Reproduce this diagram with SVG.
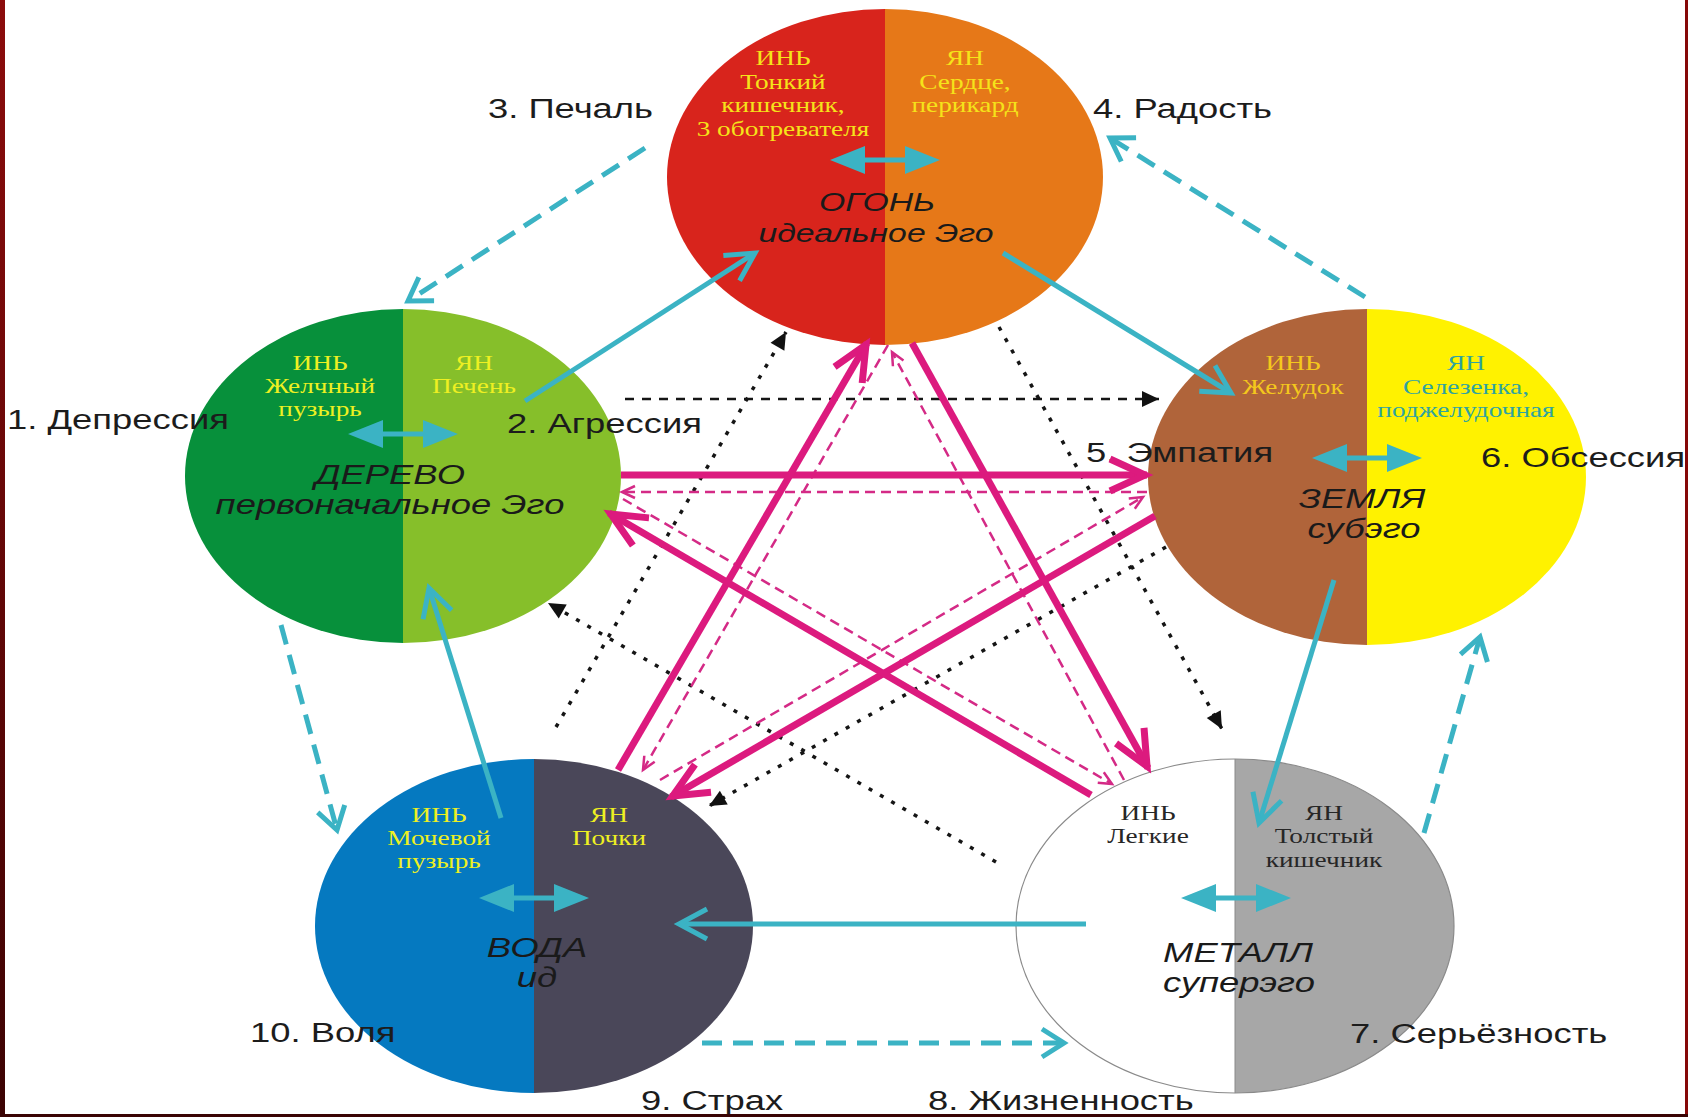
<svg xmlns="http://www.w3.org/2000/svg" width="1688" height="1117" viewBox="0 0 1688 1117">
<style>
.lab{font-family:"Liberation Sans",Arial,sans-serif;font-size:28px;fill:#1c1c1c}
.org{font-family:"Liberation Serif","Times New Roman",serif;font-size:21px;text-anchor:middle}
.el{font-family:"Liberation Sans",Arial,sans-serif;font-style:italic;font-size:28px;text-anchor:middle;fill:#1a1a1a}
.el26{font-size:26px}
.teal{fill:none;stroke:#3bb3c4;stroke-width:5}
.tdash{fill:none;stroke:#3bb3c4;stroke-width:5;stroke-dasharray:20 11}
.mag{fill:none;stroke:#dc1a7e;stroke-width:7}
.mdash{fill:none;stroke:#d42a86;stroke-width:2.5;stroke-dasharray:10 6}
.dot{fill:none;stroke:#151515;stroke-width:3.5;stroke-dasharray:4 9}
.dash{fill:none;stroke:#151515;stroke-width:2.5;stroke-dasharray:9 8}
.y1{fill:#f5e31a}
.y2{fill:#eef022}
</style>
<defs>
<linearGradient id="gb" x1="0" y1="0" x2="0" y2="1"><stop offset="0" stop-color="#8c0c0c"/><stop offset="1" stop-color="#3c0303"/></linearGradient>
<g id="dbl"><path d="M-55 0 L-20 -14 L-20 14 Z M55 0 L20 -14 L20 14 Z" fill="#3bb3c4"/><path d="M-22 0 H22" stroke="#3bb3c4" stroke-width="5"/></g>
<marker id="mTeal" markerUnits="userSpaceOnUse" orient="auto" viewBox="-40 -25 50 50" refX="0" refY="0" markerWidth="50" markerHeight="50"><path d="M-28 -15 L0 0 L-28 15" fill="none" stroke="#3bb3c4" stroke-width="5" stroke-dasharray="none"/></marker>
<marker id="mTealD" markerUnits="userSpaceOnUse" orient="auto" viewBox="-40 -25 50 50" refX="0" refY="0" markerWidth="50" markerHeight="50"><path d="M-22 -14 L0 0 L-22 14" fill="none" stroke="#3bb3c4" stroke-width="5" stroke-dasharray="none"/></marker>
<marker id="mMag" markerUnits="userSpaceOnUse" orient="auto" viewBox="-50 -30 60 60" refX="0" refY="0" markerWidth="60" markerHeight="60"><path d="M-37 -16 L-2 0 L-37 16" fill="none" stroke="#dc1a7e" stroke-width="7" stroke-dasharray="none"/></marker>
<marker id="mMagS" markerUnits="userSpaceOnUse" orient="auto" viewBox="-20 -12 26 24" refX="0" refY="0" markerWidth="26" markerHeight="24"><path d="M-13 -6 L0 0 L-13 6" fill="none" stroke="#d42a86" stroke-width="2.5" stroke-dasharray="none"/></marker>
<marker id="mBlk" markerUnits="userSpaceOnUse" orient="auto" viewBox="-20 -10 24 20" refX="0" refY="0" markerWidth="24" markerHeight="20"><path d="M-17 -8 L0 0 L-17 8 Z" fill="#111"/></marker>
</defs>
<rect width="1688" height="1117" fill="#fff"/>

<g id="fire">
<path d="M885 9 A218 168 0 0 0 885 345 Z" fill="#d8241c"/>
<path d="M885 9 A218 168 0 0 1 885 345 Z" fill="#e67818"/>
<text class="org y1" transform="matrix(1.3 0 0 1 783 65)"><tspan x="0" y="0">ИНЬ</tspan><tspan x="0" dy="23.7">Тонкий</tspan><tspan x="0" dy="23.7">кишечник,</tspan><tspan x="0" dy="23.7">3 обогревателя</tspan></text>
<text class="org y1" transform="matrix(1.3 0 0 1 965 65)"><tspan x="0" y="0">ЯН</tspan><tspan x="0" dy="23.7">Сердце,</tspan><tspan x="0" dy="23.7">перикард</tspan></text>
<use href="#dbl" transform="translate(885 160)"/>
<text class="el el26" transform="matrix(1.3 0 0 1 877 211)">ОГОНЬ</text>
<text class="el el26" transform="matrix(1.3 0 0 1 876 242)">идеальное Эго</text>
</g>

<g id="wood">
<path d="M403 309 A218 167 0 0 0 403 643 Z" fill="#07903b"/>
<path d="M403 309 A218 167 0 0 1 403 643 Z" fill="#86bf2a"/>
<text class="org y2" transform="matrix(1.3 0 0 1 320 370)"><tspan x="0" y="0">ИНЬ</tspan><tspan x="0" dy="23">Желчный</tspan><tspan x="0" dy="23">пузырь</tspan></text>
<text class="org y2" transform="matrix(1.3 0 0 1 474 370)"><tspan x="0" y="0">ЯН</tspan><tspan x="0" dy="23">Печень</tspan></text>
<use href="#dbl" transform="translate(403 434)"/>
<text class="el" transform="matrix(1.3 0 0 1 390 484)">ДЕРЕВО</text>
<text class="el" transform="matrix(1.3 0 0 1 390 514)">первоначальное Эго</text>
</g>

<g id="earth">
<path d="M1367 309 A219 168 0 0 0 1367 645 Z" fill="#b0643a"/>
<path d="M1367 309 A219 168 0 0 1 1367 645 Z" fill="#fff200"/>
<text class="org" fill="#f4c81c" transform="matrix(1.3 0 0 1 1293 370)"><tspan x="0" y="0">ИНЬ</tspan><tspan x="0" dy="24">Желудок</tspan></text>
<text class="org" fill="#2fa3a0" transform="matrix(1.3 0 0 1 1466 370)"><tspan x="0" y="0">ЯН</tspan><tspan x="0" dy="24">Селезенка,</tspan><tspan x="0" dy="23">поджелудочная</tspan></text>
<use href="#dbl" transform="translate(1367 458)"/>
<text class="el" transform="matrix(1.3 0 0 1 1362 508)">ЗЕМЛЯ</text>
<text class="el" transform="matrix(1.3 0 0 1 1364 538)">субэго</text>
</g>

<g id="water">
<path d="M534 759 A219 167 0 0 0 534 1093 Z" fill="#0579c0"/>
<path d="M534 759 A219 167 0 0 1 534 1093 Z" fill="#4a4759"/>
<text class="org y2" transform="matrix(1.3 0 0 1 439 822)"><tspan x="0" y="0">ИНЬ</tspan><tspan x="0" dy="23">Мочевой</tspan><tspan x="0" dy="23">пузырь</tspan></text>
<text class="org y2" transform="matrix(1.3 0 0 1 609 822)"><tspan x="0" y="0">ЯН</tspan><tspan x="0" dy="23">Почки</tspan></text>
<use href="#dbl" transform="translate(534 898)"/>
<text class="el" transform="matrix(1.3 0 0 1 537 957)">ВОДА</text>
<text class="el" transform="matrix(1.3 0 0 1 537 987)">ид</text>
</g>

<g id="metal">
<path d="M1235 759 A219 167 0 0 0 1235 1093 Z" fill="#ffffff"/>
<path d="M1235 759 A219 167 0 0 1 1235 1093 Z" fill="#a7a7a7"/>
<ellipse cx="1235" cy="926" rx="219" ry="167" fill="none" stroke="#8a8a8a" stroke-width="1.2"/>
<path d="M1235 759 V1093" stroke="#8a8a8a" stroke-width="1"/>
<text class="org" fill="#262626" transform="matrix(1.3 0 0 1 1148 820)"><tspan x="0" y="0">ИНЬ</tspan><tspan x="0" dy="23">Легкие</tspan></text>
<text class="org" fill="#262626" transform="matrix(1.3 0 0 1 1324 820)"><tspan x="0" y="0">ЯН</tspan><tspan x="0" dy="23">Толстый</tspan><tspan x="0" dy="24">кишечник</tspan></text>
<use href="#dbl" transform="translate(1236 898)"/>
<text class="el" transform="matrix(1.3 0 0 1 1238 962)">МЕТАЛЛ</text>
<text class="el" transform="matrix(1.3 0 0 1 1239 992)">суперэго</text>
</g>

<g id="labels">
<text class="lab" transform="matrix(1.3 0 0 1 488 118)">3. Печаль</text>
<text class="lab" transform="matrix(1.3 0 0 1 1093 118)">4. Радость</text>
<text class="lab" transform="matrix(1.3 0 0 1 7 429)">1. Депрессия</text>
<text class="lab" transform="matrix(1.3 0 0 1 507 433)">2. Агрессия</text>
<text class="lab" transform="matrix(1.3 0 0 1 1086 462)">5. Эмпатия</text>
<text class="lab" transform="matrix(1.3 0 0 1 1481 467)">6. Обсессия</text>
<text class="lab" transform="matrix(1.3 0 0 1 1350 1043)">7. Серьёзность</text>
<text class="lab" transform="matrix(1.3 0 0 1 928 1110)">8. Жизненность</text>
<text class="lab" transform="matrix(1.3 0 0 1 641 1110)">9. Страх</text>
<text class="lab" transform="matrix(1.3 0 0 1 250 1042)">10. Воля</text>
</g>

<g id="connectors">
<path class="dash" d="M625 399 H1159" marker-end="url(#mBlk)"/>
<path class="dot" d="M556 727 L786 332" marker-end="url(#mBlk)"/>
<path class="dot" d="M999 327 L1222 729" marker-end="url(#mBlk)"/>
<path class="dot" d="M1166 547 L709 806" marker-end="url(#mBlk)"/>
<path class="dot" d="M996 862 L548 603" marker-end="url(#mBlk)"/>

<path class="mdash" d="M1147 492 H622" marker-end="url(#mMagS)"/>
<path class="mdash" d="M660 780 L1143 497" marker-end="url(#mMagS)"/>
<path class="mdash" d="M888 345 L643 770" marker-end="url(#mMagS)"/>
<path class="mdash" d="M1124 780 L892 352" marker-end="url(#mMagS)"/>
<path class="mdash" d="M623 499 L1112 784" marker-end="url(#mMagS)"/>

<path class="mag" d="M621 475 H1147" marker-end="url(#mMag)"/>
<path class="mag" d="M1155 516 L671 797" marker-end="url(#mMag)"/>
<path class="mag" d="M618 770 L867 343" marker-end="url(#mMag)"/>
<path class="mag" d="M912 343 L1148 768" marker-end="url(#mMag)"/>
<path class="mag" d="M1091 795 L609 513" marker-end="url(#mMag)"/>

<path class="teal" d="M525 401 L755 253" marker-end="url(#mTeal)"/>
<path class="teal" d="M1003 253 L1231 393" marker-end="url(#mTeal)"/>
<path class="teal" d="M1334 580 L1259 823" marker-end="url(#mTeal)"/>
<path class="teal" d="M1086 924 H679" marker-end="url(#mTeal)"/>
<path class="teal" d="M501 818 L429 588" marker-end="url(#mTeal)"/>

<path class="tdash" d="M645 148 L408 301" marker-end="url(#mTealD)"/>
<path class="tdash" d="M1365 297 L1110 138" marker-end="url(#mTealD)"/>
<path class="tdash" d="M281 625 L337 830" marker-end="url(#mTealD)"/>
<path class="tdash" d="M1424 833 L1480 637" marker-end="url(#mTealD)"/>
<path class="tdash" d="M702 1043 H1064" marker-end="url(#mTealD)"/>
</g>

<rect x="0" y="0" width="5" height="1117" fill="url(#gb)"/>
<rect x="1685" y="0" width="3" height="1117" fill="#850808"/>
<rect x="0" y="1114" width="1688" height="3" fill="#3a0404"/>
</svg>
